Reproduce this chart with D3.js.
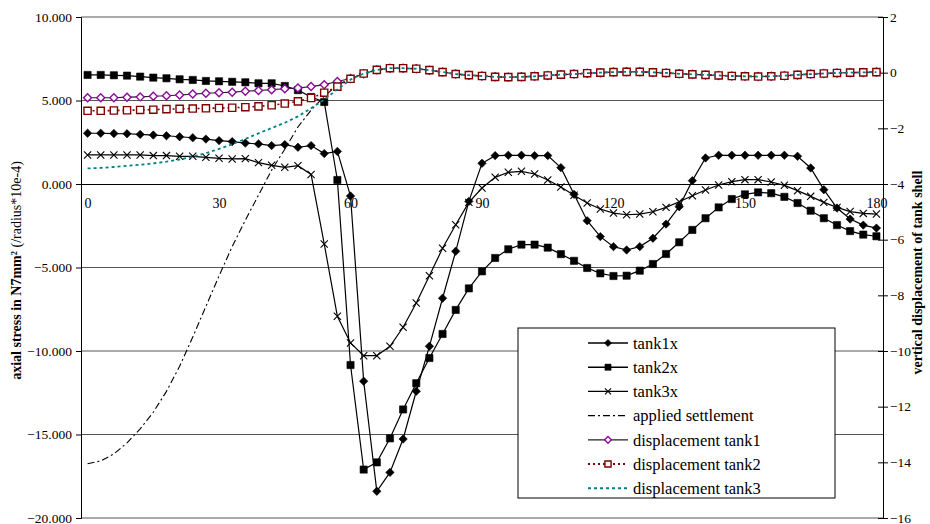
<!DOCTYPE html>
<html lang="en">
<head>
<meta charset="utf-8">
<style>
  body { margin: 0; background: white; }
  svg { background: white; font-family: 'Liberation Serif', 'Times New Roman', serif; }
  .axis text { fill: #000; }
  .axis path, .axis line { stroke: #000; }
  .grid line { stroke: #555; stroke-width: 1px; }
</style>
</head>
<body>
<svg width="930" height="524"></svg>
<script src="https://d3js.org/d3.v7.min.js"></script>
<script>
  // angle around the tank (degrees), one point every 3 degrees
  const angles = [0,3,6,9,12,15,18,21,24,27,30,33,36,39,42,45,48,51,54,57,60,
    63,66,69,72,75,78,81,84,87,90,93,96,99,102,105,108,111,114,117,120,
    123,126,129,132,135,138,141,144,147,150,153,156,159,162,165,168,171,174,177,180];

  // axial stress (left axis)
  const tank1x = [3.04,3.04,3.02,3.01,2.97,2.93,2.89,2.83,2.77,2.69,2.60,2.54,2.45,2.40,2.30,2.36,2.20,2.30,1.82,1.95,-0.72,
    -11.81,-18.40,-17.27,-15.27,-12.41,-9.72,-6.84,-4.03,-1.04,1.24,1.70,1.72,1.72,1.70,1.70,0.98,-0.62,-2.20,-3.15,-3.75,
    -3.95,-3.75,-3.25,-2.40,-1.36,0.20,1.56,1.72,1.72,1.72,1.72,1.72,1.72,1.66,0.96,-0.34,-1.44,-2.10,-2.46,-2.64];
  const tank2x = [6.53,6.53,6.51,6.49,6.43,6.37,6.33,6.27,6.23,6.17,6.15,6.12,6.09,6.03,6.03,5.87,5.62,5.21,4.91,0.24,-10.84,
    -17.10,-16.67,-15.23,-13.50,-11.93,-10.42,-8.98,-7.54,-6.25,-5.23,-4.43,-3.91,-3.63,-3.63,-3.81,-4.20,-4.60,-5.03,-5.35,-5.51,
    -5.49,-5.19,-4.79,-4.19,-3.49,-2.75,-2.05,-1.40,-0.90,-0.62,-0.50,-0.55,-0.77,-1.14,-1.60,-2.05,-2.46,-2.82,-3.03,-3.13];
  const tank3x = [1.74,1.74,1.74,1.74,1.74,1.70,1.70,1.66,1.66,1.60,1.54,1.50,1.52,1.28,1.12,1.00,1.10,0.57,-3.59,-7.92,-9.52,
    -10.28,-10.28,-9.72,-8.58,-7.13,-5.49,-3.85,-2.44,-1.10,-0.24,0.40,0.70,0.76,0.60,0.24,-0.18,-0.67,-1.14,-1.50,-1.74,
    -1.84,-1.80,-1.66,-1.40,-1.06,-0.70,-0.36,-0.06,0.14,0.26,0.26,0.12,-0.08,-0.40,-0.74,-1.10,-1.40,-1.65,-1.76,-1.80];

  // vertical displacement (right axis)
  const settlement = [-14.05,-13.95,-13.70,-13.30,-12.80,-12.20,-11.45,-10.55,-9.50,-8.40,-7.30,-6.25,-5.30,-4.40,-3.50,-2.75,-1.95,-1.35,-0.85,-0.45,-0.20,
    null,null,null,null,null,null,null,null,null,null,null,null,null,null,null,null,null,null,null,null,
    null,null,null,null,null,null,null,null,null,null,null,null,null,null,null,null,null,null,null,null];
  const disp1 = [-0.90,-0.90,-0.90,-0.88,-0.87,-0.85,-0.83,-0.80,-0.77,-0.74,-0.72,-0.70,-0.67,-0.64,-0.61,-0.58,-0.55,-0.50,-0.43,-0.32,-0.21,
    -0.04,0.10,0.16,0.16,0.14,0.09,0.02,-0.05,-0.09,-0.12,-0.15,-0.16,-0.15,-0.13,-0.10,-0.07,-0.05,-0.02,0.00,0.02,
    0.03,0.03,0.01,-0.01,-0.04,-0.06,-0.08,-0.10,-0.12,-0.13,-0.14,-0.13,-0.11,-0.08,-0.05,-0.03,-0.01,0.00,0.01,0.02];
  const disp2 = [-1.37,-1.37,-1.36,-1.35,-1.34,-1.33,-1.31,-1.30,-1.29,-1.28,-1.27,-1.26,-1.24,-1.21,-1.17,-1.11,-1.03,-0.91,-0.72,-0.50,-0.22,
    -0.03,0.10,0.16,0.16,0.14,0.09,0.02,-0.05,-0.09,-0.12,-0.15,-0.16,-0.15,-0.13,-0.10,-0.07,-0.05,-0.02,0.00,0.02,
    0.03,0.03,0.01,-0.01,-0.04,-0.06,-0.08,-0.10,-0.12,-0.13,-0.14,-0.13,-0.11,-0.08,-0.05,-0.03,-0.01,0.00,0.01,0.02];
  const disp3 = [-3.44,-3.42,-3.39,-3.35,-3.31,-3.26,-3.20,-3.12,-3.02,-2.89,-2.74,-2.57,-2.38,-2.18,-1.99,-1.80,-1.57,-1.28,-0.97,-0.60,-0.25,
    -0.03,0.10,0.16,0.16,0.14,0.09,0.02,-0.05,-0.09,-0.12,-0.15,-0.16,-0.15,-0.13,-0.10,-0.07,-0.05,-0.02,0.00,0.02,
    0.03,0.03,0.01,-0.01,-0.04,-0.06,-0.08,-0.10,-0.12,-0.13,-0.14,-0.13,-0.11,-0.08,-0.05,-0.03,-0.01,0.00,0.01,0.02];

  const leftTicks = [-20, -15, -10, -5, 0, 5, 10];
  const rightTicks = [-16, -14, -12, -10, -8, -6, -4, -2, 0, 2];
  const xTicks = [0, 30, 60, 90, 120, 150, 180];

  const width = 930, height = 524;
  const margin = { top: 17, bottom: 6, left: 81, right: 47 };

  const x = d3.scaleLinear().domain([-1.5, 181.5]).range([margin.left, width - margin.right]);
  const yL = d3.scaleLinear().domain([-20, 10]).range([height - margin.bottom, margin.top]);
  const yR = d3.scaleLinear().domain([-16, 2]).range([height - margin.bottom, margin.top]);

  const svg = d3.select("svg");

  // horizontal grid
  svg.append("g").attr("class", "grid")
    .selectAll("line").data(leftTicks.filter(d => d !== 0)).join("line")
    .attr("x1", margin.left).attr("x2", width - margin.right)
    .attr("y1", d => yL(d)).attr("y2", d => yL(d));

  const plainFont = g => g.attr("font-family", null).attr("font-size", null)
    .selectAll("text").style("font-size", "13.5px");

  // left axis
  svg.append("g").attr("class", "axis yl")
    .attr("transform", "translate(" + margin.left + ",0)")
    .call(d3.axisLeft(yL).tickValues(leftTicks).tickFormat(d3.format(".3f")).tickSize(5).tickPadding(4))
    .call(plainFont)
    .call(g => g.selectAll("text").attr("dy", "0.3em"));

  // right axis with crossing ticks
  svg.append("g").attr("class", "axis yr")
    .attr("transform", "translate(" + (width - margin.right) + ",0)")
    .call(d3.axisRight(yR).tickValues(rightTicks).tickSize(5).tickSizeOuter(0).tickPadding(2))
    .call(g => g.selectAll(".tick line").attr("x1", -5).attr("x2", 5))
    .call(plainFont)
    .call(g => g.selectAll("text").attr("dy", "0.3em"));

  // category axis on the zero line
  svg.append("g").attr("class", "axis x")
    .attr("transform", "translate(0," + yL(0) + ")")
    .call(d3.axisBottom(x).tickValues(xTicks).tickSize(0).tickPadding(14))
    .call(plainFont)
    .call(g => g.selectAll("text").style("font-size", "14px").attr("fill", "#444"));

  // axis titles
  const lt = svg.append("text")
    .attr("transform", "translate(21," + ((yL(10) + yL(-20)) / 2 + 3) + ") rotate(-90)")
    .attr("text-anchor", "middle").style("font-size", "14px");
  lt.append("tspan").style("font-weight", "bold").text("axial stress in N7mm² ");
  lt.append("tspan").text("(/radius*10e-4)");

  svg.append("text")
    .attr("transform", "translate(922," + ((yR(2) + yR(-16)) / 2 + 5) + ") rotate(-90)")
    .attr("text-anchor", "middle").style("font-size", "14px").style("font-weight", "bold")
    .text("vertical displacement of tank shell");

  // markers
  const markers = {
    diamond: r => `M0,${-r}L${r},0L0,${r}L${-r},0Z`,
    square: r => `M${-r},${-r}H${r}V${r}H${-r}Z`,
    cross: r => `M${-r},${-r}L${r},${r}M${-r},${r}L${r},${-r}`,
    none: r => ""
  };

  const series = [
    { name: "tank1x", values: tank1x, y: yL, stroke: "#000", dash: null, width: 1.2, marker: "diamond", size: 4.2, fill: "#000", mstroke: "#000" },
    { name: "tank2x", values: tank2x, y: yL, stroke: "#000", dash: null, width: 1.2, marker: "square", size: 3.6, fill: "#000", mstroke: "#000" },
    { name: "tank3x", values: tank3x, y: yL, stroke: "#000", dash: null, width: 1.2, marker: "cross", size: 3.6, fill: "none", mstroke: "#000" },
    { name: "applied settlement", values: settlement, y: yR, stroke: "#000", dash: "7,3,2,3", width: 1.1, marker: "none", size: 0, fill: "none", mstroke: "none" },
    { name: "displacement tank1", values: disp1, y: yR, stroke: "#222", dash: null, width: 1.1, marker: "diamond", size: 4, fill: "#fff", mstroke: "#8a0a9a" },
    { name: "displacement tank2", values: disp2, y: yR, stroke: "#800000", dash: "2,3", width: 1.6, marker: "square", size: 3.6, fill: "#fff", mstroke: "#800000" },
    { name: "displacement tank3", values: disp3, y: yR, stroke: "#008080", dash: "3,3", width: 1.8, marker: "none", size: 0, fill: "none", mstroke: "none" }
  ];

  series.forEach(s => {
    const pts = angles.map((a, i) => ({ a: a, v: s.values[i] })).filter(d => d.v !== null);
    const line = d3.line().x(d => x(d.a)).y(d => s.y(d.v));
    const g = svg.append("g").attr("class", "series");
    g.append("path").attr("d", line(pts))
      .attr("fill", "none").attr("stroke", s.stroke)
      .attr("stroke-width", s.width).attr("stroke-dasharray", s.dash);
    if (s.marker !== "none") {
      g.selectAll("path.m").data(pts).join("path").attr("class", "m")
        .attr("transform", d => "translate(" + x(d.a) + "," + s.y(d.v) + ")")
        .attr("d", markers[s.marker](s.size))
        .attr("fill", s.fill).attr("stroke", s.mstroke)
        .attr("stroke-width", s.marker === "cross" ? 1.1 : (s.fill === "#fff" ? 1.4 : 0.6));
    }
  });

  // legend
  const legend = svg.append("g").attr("transform", "translate(518,328)");
  legend.append("rect").attr("width", 317).attr("height", 170)
    .attr("fill", "#fff").attr("stroke", "#000").attr("stroke-width", 1);
  series.forEach((s, i) => {
    const row = legend.append("g").attr("transform", "translate(0," + (15 + i * 24.2) + ")");
    row.append("line").attr("x1", 70).attr("x2", 110)
      .attr("stroke", s.stroke).attr("stroke-width", s.width + 0.2).attr("stroke-dasharray", s.dash);
    if (s.marker !== "none") {
      row.append("path").attr("transform", "translate(90,0)")
        .attr("d", markers[s.marker](s.size * 0.85))
        .attr("fill", s.fill).attr("stroke", s.mstroke)
        .attr("stroke-width", s.marker === "cross" ? 1.1 : (s.fill === "#fff" ? 1.4 : 0.6));
    }
    row.append("text").attr("x", 115).attr("y", 0).attr("dy", "0.35em")
      .style("font-size", "16.5px").text(s.name);
  });
</script>
</body>
</html>
